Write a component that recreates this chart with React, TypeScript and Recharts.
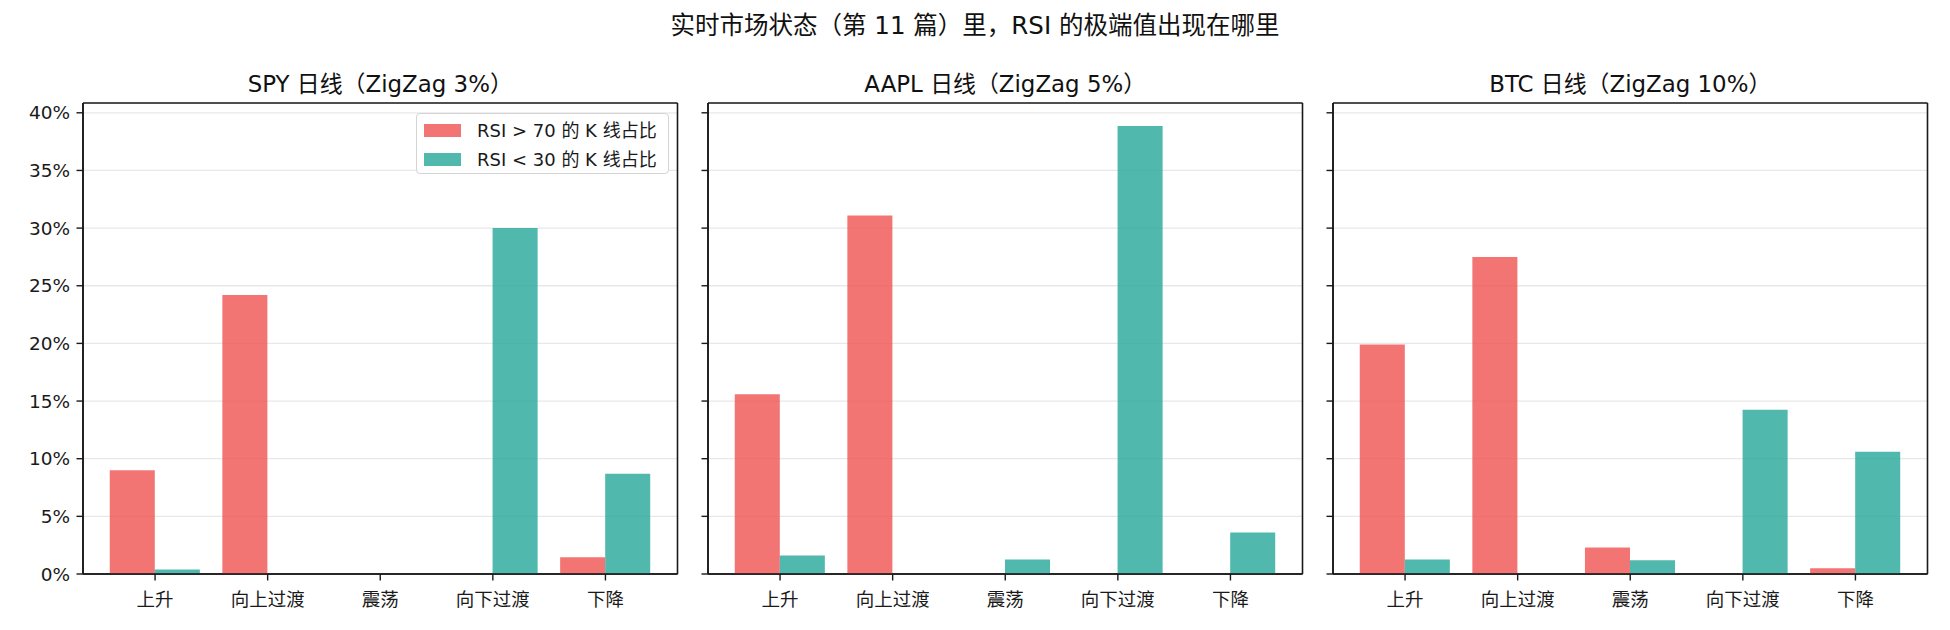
import React from 'react';
import { BarChart, Bar, XAxis, YAxis, CartesianGrid, Legend } from 'recharts';

// ---------- data ----------
const categories = ['上升', '向上过渡', '震荡', '向下过渡', '下降'];
const spyHigh = [9.0, 24.2, 0, 0, 1.45];
const spyLow = [0.4, 0, 0, 30.0, 8.7];
const aaplHigh = [15.6, 31.1, 0, 0, 0];
const aaplLow = [1.6, 0, 1.25, 38.85, 3.6];
const btcHigh = [19.9, 27.5, 2.3, 0, 0.5];
const btcLow = [1.25, 0, 1.2, 14.25, 10.6];
const yTicks = [0, 5, 10, 15, 20, 25, 30, 35, 40];
const yTickLabels = ['0%', '5%', '10%', '15%', '20%', '25%', '30%', '35%', '40%'];
const panelTitles = ['SPY 日线（ZigZag 3%）', 'AAPL 日线（ZigZag 5%）', 'BTC 日线（ZigZag 10%）'];
const seriesNames = ['RSI > 70 的 K 线占比', 'RSI < 30 的 K 线占比'];
const suptitle = '实时市场状态（第 11 篇）里，RSI 的极端值出现在哪里';

// ---------- styling / layout ----------
const FONT = '"DejaVu Sans", "Noto Sans CJK SC", sans-serif';
const RED = '#ef5350';
const TEAL = '#26a69a';
const SPINE = '#1a1a1a';
const GRID = '#e8e8e8';
const PLOT_TOP = 103;
const PLOT_BOTTOM = 574;
const PLOT_W = 594.5;
const AXIS_LEFT = 83; // plot left inside each chart
const panelLefts = [83, 708, 1333];
const Y_MAX = 40.85;
const UNIT = PLOT_W / 5.28;
const X_PAD = 0.14 * UNIT;
const BAR = 0.4 * UNIT;
const Y_AXIS_W = 60;
const X_AXIS_H = 40;
const CHART_W = AXIS_LEFT + PLOT_W + 12;
const CHART_H = 630;
const TICK_LEN = 6.5;

const makeRows = (high: number[], low: number[]) =>
  categories.map((c, i) => ({ cat: c, high: high[i], low: low[i] }));

const panels = [
  { title: panelTitles[0], rows: makeRows(spyHigh, spyLow) },
  { title: panelTitles[1], rows: makeRows(aaplHigh, aaplLow) },
  { title: panelTitles[2], rows: makeRows(btcHigh, btcLow) },
];

const labelFor = (v: number) => yTickLabels[yTicks.indexOf(v)] ?? `${v}%`;

const makeYTick = (showLabel: boolean) => (props: any) => {
  const { y, payload } = props;
  return (
    <g>
      <line x1={AXIS_LEFT - TICK_LEN} x2={AXIS_LEFT} y1={y} y2={y} stroke={SPINE} strokeWidth={1.4} />
      {showLabel && (
        <text x={AXIS_LEFT - 13} y={y} dy="0.36em" textAnchor="end" fontSize={18.5} fontFamily={FONT} fill="#1a1a1a">
          {labelFor(payload.value)}
        </text>
      )}
    </g>
  );
};

const XTick = (props: any) => {
  const { x, payload } = props;
  return (
    <g>
      <line x1={x} x2={x} y1={PLOT_BOTTOM} y2={PLOT_BOTTOM + TICK_LEN} stroke={SPINE} strokeWidth={1.4} />
      <text x={x} y={PLOT_BOTTOM + 25.5} dy="0.36em" textAnchor="middle" fontSize={18.5} fontFamily={FONT} fill="#1a1a1a">
        {payload.value}
      </text>
    </g>
  );
};

const LegendBox = (props: any) => {
  const items = [...(props.payload || [])].sort(
    (a: any, b: any) => seriesNames.indexOf(a.value) - seriesNames.indexOf(b.value)
  );
  return (
    <div
      style={{
        width: 253,
        height: 61,
        boxSizing: 'border-box',
        border: '1.3px solid #d4d4d4',
        borderRadius: 4,
        background: 'rgba(255,255,255,0.85)',
        paddingTop: 2,
      }}
    >
      {items.map((it: any) => (
        <div key={it.value} style={{ display: 'flex', alignItems: 'center', height: 29 }}>
          <span
            style={{ display: 'inline-block', width: 37, height: 13.5, marginLeft: 7, marginRight: 16, background: it.color, opacity: 0.8 }}
          />
          <span style={{ fontFamily: FONT, fontSize: 18, color: '#1a1a1a', whiteSpace: 'nowrap', lineHeight: '29px' }}>
            {it.value}
          </span>
        </div>
      ))}
    </div>
  );
};

// frame lines derived from the chart's own plot offset
const frameH = ({ offset }: any) => [offset.top, offset.top + offset.height];
const frameV = ({ offset }: any) => [offset.left, offset.left + offset.width];

const Panel = ({ idx }: { idx: number }) => {
  const p = panels[idx];
  const left = panelLefts[idx] - AXIS_LEFT;
  return (
    <div style={{ position: 'absolute', left, top: 0, width: CHART_W, height: CHART_H }}>
      <div
        style={{
          position: 'absolute',
          left: AXIS_LEFT,
          width: PLOT_W,
          top: 84 - 16,
          height: 32,
          lineHeight: '32px',
          textAlign: 'center',
          fontFamily: FONT,
          fontSize: 22.9,
          color: '#111',
          whiteSpace: 'nowrap',
        }}
      >
        {p.title}
      </div>
      <BarChart
        width={CHART_W}
        height={CHART_H}
        data={p.rows}
        margin={{ top: PLOT_TOP, bottom: CHART_H - PLOT_BOTTOM - X_AXIS_H, left: AXIS_LEFT - Y_AXIS_W, right: CHART_W - AXIS_LEFT - PLOT_W }}
        barGap={0}
        style={{ position: 'absolute', left: 0, top: 0 }}
      >
        <CartesianGrid vertical={false} stroke={GRID} strokeWidth={1.3} />
        <CartesianGrid
          stroke={SPINE}
          strokeWidth={1.6}
          horizontalCoordinatesGenerator={frameH}
          verticalCoordinatesGenerator={frameV}
        />
        <XAxis
          dataKey="cat"
          type="category"
          height={X_AXIS_H}
          padding={{ left: X_PAD, right: X_PAD }}
          tickLine={false}
          axisLine={{ stroke: SPINE, strokeWidth: 1.6 }}
          tick={XTick}
          interval={0}
        />
        <YAxis
          type="number"
          domain={[0, Y_MAX]}
          ticks={yTicks}
          interval={0}
          allowDataOverflow
          width={Y_AXIS_W}
          tickLine={false}
          axisLine={{ stroke: SPINE, strokeWidth: 1.6 }}
          tick={makeYTick(idx === 0)}
        />
        <Bar dataKey="high" name={seriesNames[0]} fill={RED} fillOpacity={0.8} barSize={BAR} isAnimationActive={false} />
        <Bar dataKey="low" name={seriesNames[1]} fill={TEAL} fillOpacity={0.8} barSize={BAR} isAnimationActive={false} />
        {idx === 0 && (
          <Legend
            layout="vertical"
            align="center"
            verticalAlign="middle"
            content={LegendBox}
            wrapperStyle={{ position: 'absolute', left: 416, top: 113, width: 253, height: 61 }}
          />
        )}
      </BarChart>
    </div>
  );
};

export default function App() {
  return (
    <div style={{ position: 'absolute', left: 0, top: 0, width: 1950, height: 630, background: '#fff', overflow: 'hidden' }}>
      <div
        style={{
          position: 'absolute',
          left: 0,
          width: 1950,
          top: 26 - 17,
          height: 34,
          lineHeight: '34px',
          textAlign: 'center',
          fontFamily: FONT,
          fontSize: 24.5,
          color: '#111',
          whiteSpace: 'nowrap',
        }}
      >
        {suptitle}
      </div>
      <Panel idx={0} />
      <Panel idx={1} />
      <Panel idx={2} />
    </div>
  );
}
